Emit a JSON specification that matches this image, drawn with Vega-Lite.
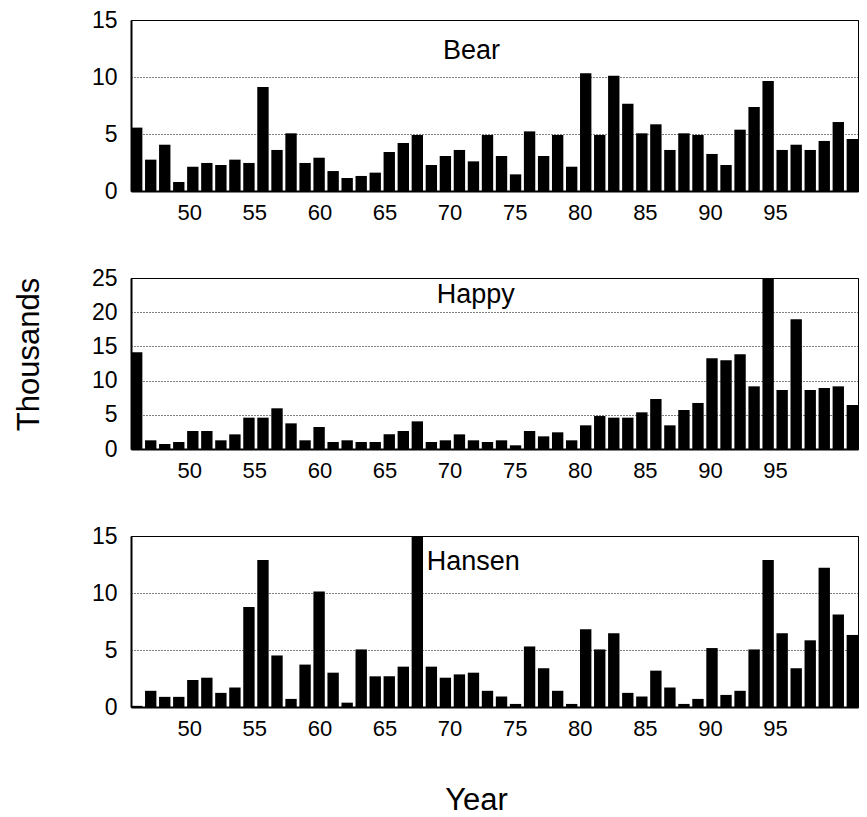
{
  "$schema": "https://vega.github.io/schema/vega-lite/v6.json",
  "padding": {"left": 12, "top": 8, "right": 5, "bottom": 5},
  "bounds": "flush",
  "spacing": 87,
  "config": {
    "font": "Liberation Sans",
    "view": {"stroke": "black", "strokeWidth": 1},
    "axis": {"labelFont": "Liberation Sans", "titleFont": "Liberation Sans", "labelColor": "black", "titleColor": "black", "titleFontWeight": "normal"}
  },
  "datasets": {
    "flows": [
      {"site":"Bear","year":1946,"value":5.56},{"site":"Bear","year":1947,"value":2.75},{"site":"Bear","year":1948,"value":4.06},{"site":"Bear","year":1949,"value":0.79},{"site":"Bear","year":1950,"value":2.13},{"site":"Bear","year":1951,"value":2.46},{"site":"Bear","year":1952,"value":2.28},{"site":"Bear","year":1953,"value":2.75},{"site":"Bear","year":1954,"value":2.46},{"site":"Bear","year":1955,"value":9.12},{"site":"Bear","year":1956,"value":3.6},{"site":"Bear","year":1957,"value":5.06},{"site":"Bear","year":1958,"value":2.46},{"site":"Bear","year":1959,"value":2.92},{"site":"Bear","year":1960,"value":1.75},{"site":"Bear","year":1961,"value":1.14},{"site":"Bear","year":1962,"value":1.32},{"site":"Bear","year":1963,"value":1.61},{"site":"Bear","year":1964,"value":3.42},{"site":"Bear","year":1965,"value":4.21},{"site":"Bear","year":1966,"value":4.91},{"site":"Bear","year":1967,"value":2.28},{"site":"Bear","year":1968,"value":3.07},{"site":"Bear","year":1969,"value":3.6},{"site":"Bear","year":1970,"value":2.6},{"site":"Bear","year":1971,"value":4.91},{"site":"Bear","year":1972,"value":3.07},{"site":"Bear","year":1973,"value":1.46},{"site":"Bear","year":1974,"value":5.23},{"site":"Bear","year":1975,"value":3.07},{"site":"Bear","year":1976,"value":4.91},{"site":"Bear","year":1977,"value":2.13},{"site":"Bear","year":1978,"value":10.32},{"site":"Bear","year":1979,"value":4.91},{"site":"Bear","year":1980,"value":10.12},{"site":"Bear","year":1981,"value":7.66},{"site":"Bear","year":1982,"value":5.06},{"site":"Bear","year":1983,"value":5.85},{"site":"Bear","year":1984,"value":3.6},{"site":"Bear","year":1985,"value":5.06},{"site":"Bear","year":1986,"value":4.91},{"site":"Bear","year":1987,"value":3.25},{"site":"Bear","year":1988,"value":2.28},{"site":"Bear","year":1989,"value":5.38},{"site":"Bear","year":1990,"value":7.37},{"site":"Bear","year":1991,"value":9.65},{"site":"Bear","year":1992,"value":3.6},{"site":"Bear","year":1993,"value":4.06},{"site":"Bear","year":1994,"value":3.6},{"site":"Bear","year":1995,"value":4.39},{"site":"Bear","year":1996,"value":6.05},{"site":"Bear","year":1997,"value":4.56},
      {"site":"Happy","year":1946,"value":14.13},{"site":"Happy","year":1947,"value":1.27},{"site":"Happy","year":1948,"value":0.73},{"site":"Happy","year":1949,"value":1.02},{"site":"Happy","year":1950,"value":2.63},{"site":"Happy","year":1951,"value":2.63},{"site":"Happy","year":1952,"value":1.27},{"site":"Happy","year":1953,"value":2.14},{"site":"Happy","year":1954,"value":4.58},{"site":"Happy","year":1955,"value":4.58},{"site":"Happy","year":1956,"value":5.95},{"site":"Happy","year":1957,"value":3.75},{"site":"Happy","year":1958,"value":1.27},{"site":"Happy","year":1959,"value":3.22},{"site":"Happy","year":1960,"value":1.02},{"site":"Happy","year":1961,"value":1.27},{"site":"Happy","year":1962,"value":1.02},{"site":"Happy","year":1963,"value":1.02},{"site":"Happy","year":1964,"value":2.14},{"site":"Happy","year":1965,"value":2.63},{"site":"Happy","year":1966,"value":4.04},{"site":"Happy","year":1967,"value":1.02},{"site":"Happy","year":1968,"value":1.27},{"site":"Happy","year":1969,"value":2.14},{"site":"Happy","year":1970,"value":1.27},{"site":"Happy","year":1971,"value":1.02},{"site":"Happy","year":1972,"value":1.27},{"site":"Happy","year":1973,"value":0.54},{"site":"Happy","year":1974,"value":2.63},{"site":"Happy","year":1975,"value":1.85},{"site":"Happy","year":1976,"value":2.44},{"site":"Happy","year":1977,"value":1.27},{"site":"Happy","year":1978,"value":3.46},{"site":"Happy","year":1979,"value":4.82},{"site":"Happy","year":1980,"value":4.58},{"site":"Happy","year":1981,"value":4.58},{"site":"Happy","year":1982,"value":5.36},{"site":"Happy","year":1983,"value":7.31},{"site":"Happy","year":1984,"value":3.46},{"site":"Happy","year":1985,"value":5.7},{"site":"Happy","year":1986,"value":6.73},{"site":"Happy","year":1987,"value":13.26},{"site":"Happy","year":1988,"value":12.96},{"site":"Happy","year":1989,"value":13.84},{"site":"Happy","year":1990,"value":9.16},{"site":"Happy","year":1991,"value":25.5},{"site":"Happy","year":1992,"value":8.63},{"site":"Happy","year":1993,"value":18.96},{"site":"Happy","year":1994,"value":8.63},{"site":"Happy","year":1995,"value":8.92},{"site":"Happy","year":1996,"value":9.16},{"site":"Happy","year":1997,"value":6.43},
      {"site":"Hansen","year":1946,"value":0.1},{"site":"Hansen","year":1947,"value":1.42},{"site":"Hansen","year":1948,"value":0.89},{"site":"Hansen","year":1949,"value":0.89},{"site":"Hansen","year":1950,"value":2.36},{"site":"Hansen","year":1951,"value":2.57},{"site":"Hansen","year":1952,"value":1.24},{"site":"Hansen","year":1953,"value":1.71},{"site":"Hansen","year":1954,"value":8.77},{"site":"Hansen","year":1955,"value":12.9},{"site":"Hansen","year":1956,"value":4.52},{"site":"Hansen","year":1957,"value":0.71},{"site":"Hansen","year":1958,"value":3.72},{"site":"Hansen","year":1959,"value":10.13},{"site":"Hansen","year":1960,"value":3.01},{"site":"Hansen","year":1961,"value":0.38},{"site":"Hansen","year":1962,"value":5.05},{"site":"Hansen","year":1963,"value":2.69},{"site":"Hansen","year":1964,"value":2.69},{"site":"Hansen","year":1965,"value":3.54},{"site":"Hansen","year":1966,"value":15.3},{"site":"Hansen","year":1967,"value":3.54},{"site":"Hansen","year":1968,"value":2.57},{"site":"Hansen","year":1969,"value":2.86},{"site":"Hansen","year":1970,"value":3.01},{"site":"Hansen","year":1971,"value":1.42},{"site":"Hansen","year":1972,"value":0.92},{"site":"Hansen","year":1973,"value":0.27},{"site":"Hansen","year":1974,"value":5.31},{"site":"Hansen","year":1975,"value":3.4},{"site":"Hansen","year":1976,"value":1.42},{"site":"Hansen","year":1977,"value":0.27},{"site":"Hansen","year":1978,"value":6.82},{"site":"Hansen","year":1979,"value":5.05},{"site":"Hansen","year":1980,"value":6.47},{"site":"Hansen","year":1981,"value":1.24},{"site":"Hansen","year":1982,"value":0.92},{"site":"Hansen","year":1983,"value":3.19},{"site":"Hansen","year":1984,"value":1.71},{"site":"Hansen","year":1985,"value":0.27},{"site":"Hansen","year":1986,"value":0.71},{"site":"Hansen","year":1987,"value":5.17},{"site":"Hansen","year":1988,"value":1.06},{"site":"Hansen","year":1989,"value":1.42},{"site":"Hansen","year":1990,"value":5.05},{"site":"Hansen","year":1991,"value":12.9},{"site":"Hansen","year":1992,"value":6.47},{"site":"Hansen","year":1993,"value":3.4},{"site":"Hansen","year":1994,"value":5.85},{"site":"Hansen","year":1995,"value":12.22},{"site":"Hansen","year":1996,"value":8.12},{"site":"Hansen","year":1997,"value":6.32}
    ]
  },
  "vconcat": [
    {
      "width": 727, "height": 171,
      "layer": [
        {"data": {"name": "flows"},
         "transform": [{"filter": "datum.site === 'Bear'"}],
         "mark": {"type": "bar", "color": "black", "clip": true},
         "encoding": {
           "x": {"field": "year", "type": "ordinal", "scale": {"paddingInner": 0.19, "paddingOuter": 0}, "axis": null},
           "y": {"field": "value", "type": "quantitative", "scale": {"domain": [0, 15], "nice": false},
                 "axis": {"values": [0, 5, 10, 15], "title": null, "grid": true, "gridColor": "black", "gridDash": [1, 2], "gridWidth": 1, "gridOpacity": 1, "ticks": false, "tickSize": 0, "domain": true, "domainColor": "black", "domainWidth": 2, "labelFontSize": 23, "labelPadding": 14}}
         }},
        {"data": {"name": "flows"},
         "transform": [{"filter": "datum.site === 'Bear'"}],
         "mark": {"type": "point", "opacity": 0},
         "encoding": {
           "x": {"field": "year", "type": "quantitative", "scale": {"domain": [1945.53, 2001.37], "nice": false, "zero": false},
                 "axis": {"orient": "bottom", "values": [1950, 1955, 1960, 1965, 1970, 1975, 1980, 1985, 1990, 1995], "labelExpr": "datum.value - 1900", "labelFlush": false, "ticks": false, "tickSize": 0, "grid": false, "domain": true, "domainColor": "black", "domainWidth": 2, "labelFontSize": 22, "labelPadding": 11, "title": null}}
         }},
        {"data": {"values": [{"site": "Bear", "labx": 1969.49, "laby": 11.58}]},
         "mark": {"type": "text", "align": "left", "baseline": "alphabetic", "fontSize": 27, "font": "Liberation Sans", "color": "black"},
         "encoding": {
           "text": {"field": "site"},
           "x": {"field": "labx", "type": "quantitative", "scale": {"domain": [1945.53, 2001.37], "nice": false, "zero": false}, "axis": null},
           "y": {"field": "laby", "type": "quantitative", "scale": {"domain": [0, 15], "nice": false},
                 "axis": {"values": [0, 5, 10, 15], "title": null, "grid": true, "gridColor": "black", "gridDash": [1, 2], "gridWidth": 1, "gridOpacity": 1, "ticks": false, "tickSize": 0, "domain": true, "domainColor": "black", "domainWidth": 2, "labelFontSize": 23, "labelPadding": 14}}
         }}
      ],
      "resolve": {"scale": {"x": "independent"}, "axis": {"x": "independent"}}
    },
    {
      "width": 727, "height": 171,
      "layer": [
        {"data": {"name": "flows"},
         "transform": [{"filter": "datum.site === 'Happy'"}],
         "mark": {"type": "bar", "color": "black", "clip": true},
         "encoding": {
           "x": {"field": "year", "type": "ordinal", "scale": {"paddingInner": 0.19, "paddingOuter": 0}, "axis": null},
           "y": {"field": "value", "type": "quantitative", "scale": {"domain": [0, 25], "nice": false},
                 "axis": {"values": [0, 5, 10, 15, 20, 25], "title": "Thousands", "titleFontSize": 31, "titlePadding": 46, "titleY": 76, "grid": true, "gridColor": "black", "gridDash": [1, 2], "gridWidth": 1, "gridOpacity": 1, "ticks": false, "tickSize": 0, "domain": true, "domainColor": "black", "domainWidth": 2, "labelFontSize": 23, "labelPadding": 14}}
         }},
        {"data": {"name": "flows"},
         "transform": [{"filter": "datum.site === 'Happy'"}],
         "mark": {"type": "point", "opacity": 0},
         "encoding": {
           "x": {"field": "year", "type": "quantitative", "scale": {"domain": [1945.53, 2001.37], "nice": false, "zero": false},
                 "axis": {"orient": "bottom", "values": [1950, 1955, 1960, 1965, 1970, 1975, 1980, 1985, 1990, 1995], "labelExpr": "datum.value - 1900", "labelFlush": false, "ticks": false, "tickSize": 0, "grid": false, "domain": true, "domainColor": "black", "domainWidth": 2, "labelFontSize": 22, "labelPadding": 11, "title": null}}
         }},
        {"data": {"values": [{"site": "Happy", "labx": 1969.01, "laby": 21.35}]},
         "mark": {"type": "text", "align": "left", "baseline": "alphabetic", "fontSize": 27, "font": "Liberation Sans", "color": "black"},
         "encoding": {
           "text": {"field": "site"},
           "x": {"field": "labx", "type": "quantitative", "scale": {"domain": [1945.53, 2001.37], "nice": false, "zero": false}, "axis": null},
           "y": {"field": "laby", "type": "quantitative", "scale": {"domain": [0, 25], "nice": false},
                 "axis": {"values": [0, 5, 10, 15, 20, 25], "title": "Thousands", "titleFontSize": 31, "titlePadding": 46, "titleY": 76, "grid": true, "gridColor": "black", "gridDash": [1, 2], "gridWidth": 1, "gridOpacity": 1, "ticks": false, "tickSize": 0, "domain": true, "domainColor": "black", "domainWidth": 2, "labelFontSize": 23, "labelPadding": 14}}
         }}
      ],
      "resolve": {"scale": {"x": "independent"}, "axis": {"x": "independent"}}
    },
    {
      "width": 727, "height": 171,
      "layer": [
        {"data": {"name": "flows"},
         "transform": [{"filter": "datum.site === 'Hansen'"}],
         "mark": {"type": "bar", "color": "black", "clip": true},
         "encoding": {
           "x": {"field": "year", "type": "ordinal", "scale": {"paddingInner": 0.19, "paddingOuter": 0}, "axis": null},
           "y": {"field": "value", "type": "quantitative", "scale": {"domain": [0, 15], "nice": false},
                 "axis": {"values": [0, 5, 10, 15], "title": null, "grid": true, "gridColor": "black", "gridDash": [1, 2], "gridWidth": 1, "gridOpacity": 1, "ticks": false, "tickSize": 0, "domain": true, "domainColor": "black", "domainWidth": 2, "labelFontSize": 23, "labelPadding": 14}}
         }},
        {"data": {"name": "flows"},
         "transform": [{"filter": "datum.site === 'Hansen'"}],
         "mark": {"type": "point", "opacity": 0},
         "encoding": {
           "x": {"field": "year", "type": "quantitative", "scale": {"domain": [1945.53, 2001.37], "nice": false, "zero": false},
                 "axis": {"orient": "bottom", "values": [1950, 1955, 1960, 1965, 1970, 1975, 1980, 1985, 1990, 1995], "labelExpr": "datum.value - 1900", "labelFlush": false, "ticks": false, "tickSize": 0, "grid": false, "domain": true, "domainColor": "black", "domainWidth": 2, "labelFontSize": 22, "labelPadding": 11, "title": "Year", "titleFontSize": 31, "titleX": 345, "titleY": 102, "titleBaseline": "alphabetic", "titleAlign": "center"}}
         }},
        {"data": {"values": [{"site": "Hansen", "labx": 1968.24, "laby": 12.02}]},
         "mark": {"type": "text", "align": "left", "baseline": "alphabetic", "fontSize": 27, "font": "Liberation Sans", "color": "black"},
         "encoding": {
           "text": {"field": "site"},
           "x": {"field": "labx", "type": "quantitative", "scale": {"domain": [1945.53, 2001.37], "nice": false, "zero": false}, "axis": null},
           "y": {"field": "laby", "type": "quantitative", "scale": {"domain": [0, 15], "nice": false},
                 "axis": {"values": [0, 5, 10, 15], "title": null, "grid": true, "gridColor": "black", "gridDash": [1, 2], "gridWidth": 1, "gridOpacity": 1, "ticks": false, "tickSize": 0, "domain": true, "domainColor": "black", "domainWidth": 2, "labelFontSize": 23, "labelPadding": 14}}
         }}
      ],
      "resolve": {"scale": {"x": "independent"}, "axis": {"x": "independent"}}
    }
  ]
}
